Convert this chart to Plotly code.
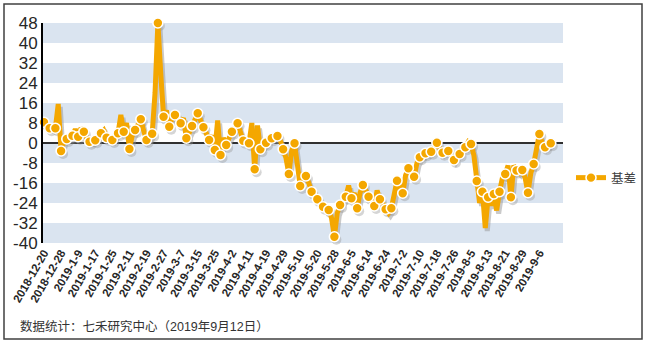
import plotly.graph_objects as go

# ---------------- data ----------------
basis = [
    8.3, 7, 5.9, 6, 5.9, 15.6, -3.2, 1, 1.6, 3,
    2.9, 5.5, 2.5, 6, 4.5, 2, 0.5, 0.5, 1.1, 2.5,
    3.9, 5, 2.1, 1.5, 1.2, 3, 3.9, 11.2, 4.5, 8,
    -2.4, 3, 5.2, 7, 9.5, 5, 1.2, 2, 3.7, 20,
    48, 28, 10.5, 13, 6.5, 10, 11.2, 9, 7.9, 10,
    1.9, 4, 6.8, 9, 11.9, 9, 6.3, 4, 1.2, 3,
    -2.8, 9, -4.8, 2, -0.8, 2, 4.5, 6, 7.9, 4,
    0.9, 1, -0.1, 8, -10.5, 7, -2.5, -1, 0.1, 2,
    1.9, 3, 2.8, 1, -2.5, -6, -12.4, -3, -0.1, -8,
    -17.2, -12, -13.2, -16, -19.5, -20, -22.5, -24, -25.5, -27,
    -26.8, -30, -37.5, -28, -24.8, -23, -21.5, -17, -22.1, -20,
    -26.1, -20, -16.8, -19, -21.5, -23, -25.2, -19, -22.5, -24,
    -26.5, -28, -26.1, -20, -15.1, -18, -20.1, -13, -10.1, -12,
    -13.5, -8, -5.7, -5, -4.1, -4, -3.5, -2, 0.1, -2,
    -3.9, -3, -3.2, -5, -6.8, -5, -4.4, -2, -1.7, 0.5,
    -0.4, -5, -15.2, -24, -19.5, -34, -21.7, -25, -20.4, -27,
    -19.5, -14, -12.4, -9, -21.7, -9, -11, -12, -10.8, -14,
    -19.9, -12, -8.4, -3, 3.6, 0, -1.7, -1, -0.1,
]
tick_labels = [
    "2018-12-20", "2018-12-28", "2019-1-9", "2019-1-17", "2019-1-25",
    "2019-2-11", "2019-2-19", "2019-2-27", "2019-3-7", "2019-3-15",
    "2019-3-25", "2019-4-2", "2019-4-11", "2019-4-19", "2019-4-29",
    "2019-5-10", "2019-5-20", "2019-5-28", "2019-6-5", "2019-6-14",
    "2019-6-24", "2019-7-2", "2019-7-10", "2019-7-18", "2019-7-26",
    "2019-8-5", "2019-8-13", "2019-8-21", "2019-8-29", "2019-9-6",
]
label_step = 6
y_ticks = [-40, -32, -24, -16, -8, 0, 8, 16, 24, 32, 40, 48]
y_ticktext = [str(v) for v in y_ticks]
series_name = "基差"
footer = "数据统计：七禾研究中心（2019年9月12日）"

# ---------------- style ----------------
ORANGE = "#F4A700"
BAND = "#DAE4F0"
TXT = "#262626"
x = list(range(len(basis)))
marker_idx = [i for i in x if i % 2 == 0]
xr = [-0.35, 182.3]
yr = [-40, 48]
dx, dy = 0.7, 1.2  # shadow offset in axis units

fig = go.Figure()

# shadow (on base axes with shifted ranges)
fig.add_trace(go.Scatter(
    x=x, y=basis, mode="lines+markers", xaxis="x", yaxis="y",
    line=dict(color="rgba(150,150,150,0.5)", width=5),
    marker=dict(size=10, color="rgba(150,150,150,0.4)"),
    selectedpoints=marker_idx,
    selected=dict(marker=dict(opacity=1)),
    unselected=dict(marker=dict(opacity=0)),
    showlegend=False, hoverinfo="skip", cliponaxis=False,
))
# main series
fig.add_trace(go.Scatter(
    x=x, y=basis, mode="lines+markers", xaxis="x2", yaxis="y2",
    name=series_name,
    line=dict(color=ORANGE, width=5),
    marker=dict(size=10, color=ORANGE, line=dict(color="white", width=1.6)),
    selectedpoints=marker_idx,
    selected=dict(marker=dict(opacity=1)),
    unselected=dict(marker=dict(opacity=0)),
    cliponaxis=False,
))

shapes = []
for lo in range(yr[0], yr[1], 16):
    shapes.append(dict(type="rect", xref="paper", yref="y2", x0=0, x1=1,
                       y0=lo, y1=lo + 8, fillcolor=BAND, line=dict(width=0),
                       layer="below"))
# outer frame
shapes.append(dict(type="rect", xref="paper", yref="paper",
                   x0=(4 - 43) / 520, x1=(642 - 43) / 520,
                   y0=(243 - 339) / 220, y1=(243 - 4) / 220,
                   line=dict(color="#404040", width=1.5), layer="above"))

fig.update_layout(
    width=646, height=344,
    margin=dict(l=43, r=83, t=23, b=101, autoexpand=False),
    paper_bgcolor="white", plot_bgcolor="white",
    font=dict(family="Liberation Sans, Noto Sans CJK SC", color=TXT),
    shapes=shapes,
    xaxis=dict(range=[xr[0] - dx, xr[1] - dx], visible=False, fixedrange=True),
    yaxis=dict(range=[yr[0] + dy, yr[1] + dy], visible=False, fixedrange=True),
    xaxis2=dict(overlaying="x", range=xr, showgrid=False, zeroline=False,
                showline=False,
                tickvals=[i * label_step for i in range(len(tick_labels))],
                ticktext=tick_labels, tickangle=-60, ticks="",
                tickfont=dict(size=11.5, weight="bold", color=TXT)),
    yaxis2=dict(overlaying="y", range=yr, showgrid=False,
                zeroline=True, zerolinecolor="#303030", zerolinewidth=2,
                showline=True, linecolor="black", linewidth=2,
                tickvals=y_ticks, ticktext=y_ticktext, ticks="",
                tickfont=dict(size=17, color=TXT)),
    legend=dict(x=(571 - 43) / 520, y=(243 - 178) / 220, xanchor="left",
                yanchor="middle", bgcolor="rgba(0,0,0,0)",
                font=dict(size=12.5, color="#404040"), itemwidth=30),
    annotations=[dict(text=footer, xref="paper", yref="paper",
                      x=(18 - 43) / 520, y=(243 - 326) / 220,
                      xanchor="left", yanchor="middle", showarrow=False,
                      font=dict(size=12.5, color="#333333"))],
)

fig.write_html("out.html")
